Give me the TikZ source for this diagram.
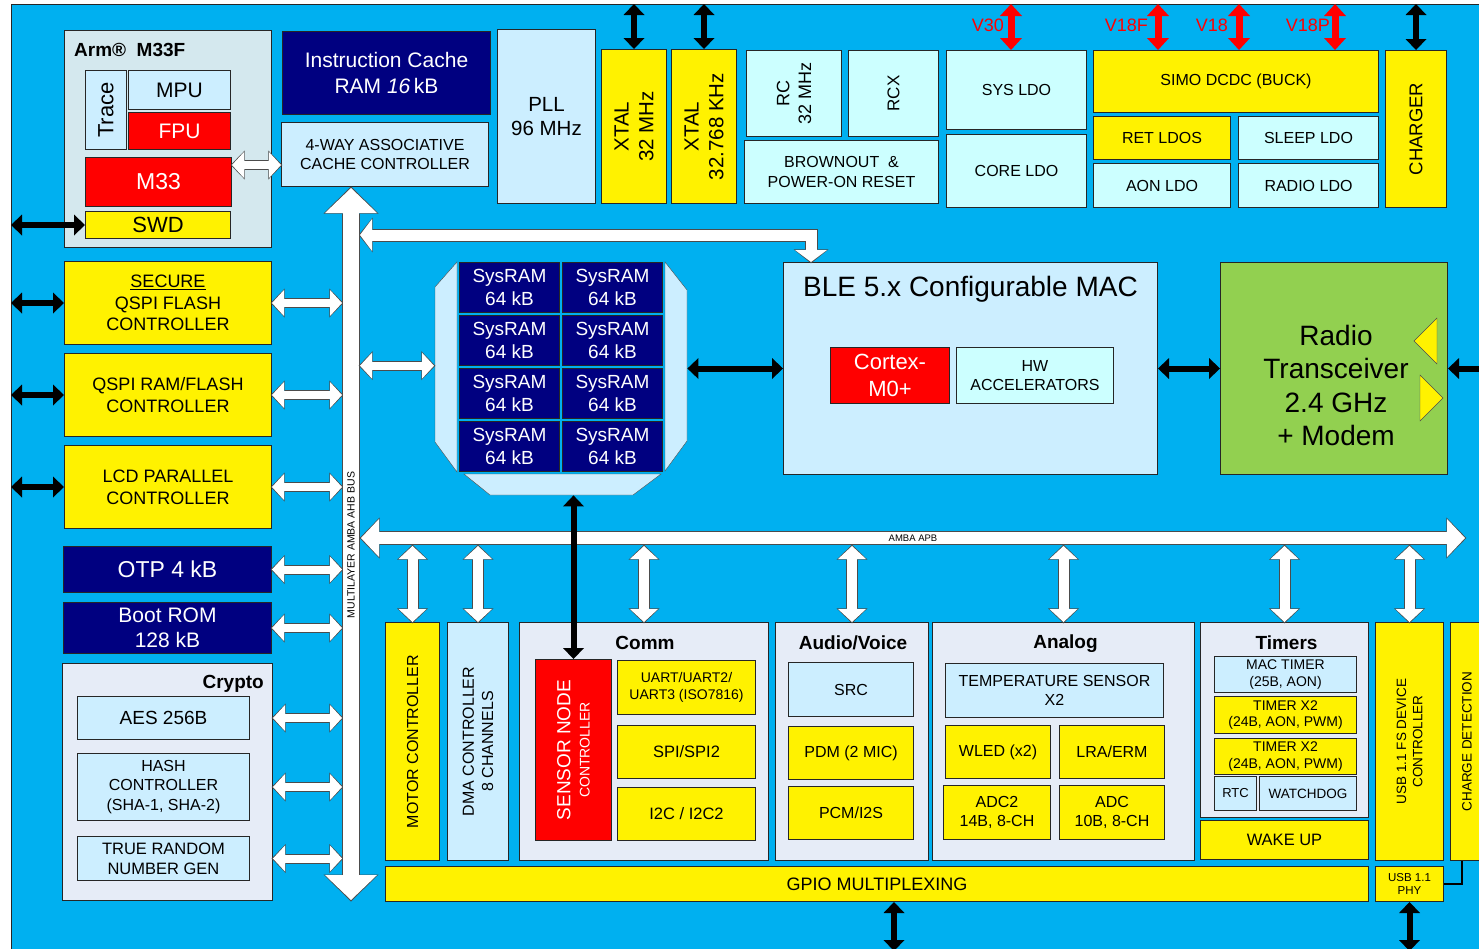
\documentclass[tikz,border=0pt]{standalone}
\usepackage{fontspec}
\setmainfont{Liberation Sans}
\usetikzlibrary{arrows.meta,positioning,calc}
\definecolor{chipblue}{RGB}{0,176,240}
\definecolor{navyram}{RGB}{0,0,128}
\definecolor{paleblue}{RGB}{204,238,255}
\definecolor{palecyan}{RGB}{204,255,255}
\definecolor{armgray}{RGB}{212,232,238}
\definecolor{grpgray}{RGB}{230,236,247}
\definecolor{radiogreen}{RGB}{146,208,80}
\newcommand{\fsz}[1]{\fontsize{#1pt}{\dimexpr#1pt*6/5\relax}\selectfont}

\begin{document}
\begin{tikzpicture}[x=1pt,y=-1pt,>={Triangle[width=21pt,length=11pt,line width=0pt]},font=\fsz{16}]
\tikzset{wh/.style 2 args={minimum width=#1,minimum height=#2}, blk/.style={draw=black!85,line width=1pt,anchor=north west,inner sep=1pt,align=center,font=\fsz{16}}, ybox/.style={blk,fill=yellow}, pbox/.style={blk,fill=paleblue}, cbox/.style={blk,fill=palecyan}, nbox/.style={blk,fill=navyram,text=white}, rbox/.style={blk,fill=red,text=white}, grp/.style={blk,fill=grpgray}, vtxt/.style={rotate=90,align=center,inner sep=0pt}, gttl/.style={font=\bfseries\fsz{19},inner sep=0pt}, vlab/.style={text=red,font=\fsz{18},anchor=east,inner sep=0pt}}
\tikzset{bk/.style={line width=6pt,draw=black}, rk/.style={line width=7pt,draw=red,{Triangle[width=22pt,length=12pt,line width=0pt]}-{Triangle[width=22pt,length=12pt,line width=0pt]}}, wsm/.style={draw=white,line width=8pt,{Triangle[width=26pt,length=12pt,line width=0pt]}-{Triangle[width=26pt,length=12pt,line width=0pt]},preaction={draw=black!70,line width=10pt,shorten <=-1.3pt,shorten >=-1.3pt,{Triangle[width=29pt,length=14pt,line width=0pt]}-{Triangle[width=29pt,length=14pt,line width=0pt]}}}, wvt/.style={draw=white,line width=10pt,{Triangle[width=28pt,length=13pt,line width=0pt]}-{Triangle[width=28pt,length=13pt,line width=0pt]},preaction={draw=black!70,line width=12pt,shorten <=-1.3pt,shorten >=-1.3pt,{Triangle[width=31pt,length=15pt,line width=0pt]}-{Triangle[width=31pt,length=15pt,line width=0pt]}}}, wel/.style={draw=white,line width=11pt,{Triangle[width=32pt,length=12pt,line width=0pt]}-{Triangle[width=32pt,length=12pt,line width=0pt]},preaction={draw=black!70,line width=13pt,shorten <=-1.3pt,shorten >=-1.3pt,{Triangle[width=35pt,length=14pt,line width=0pt]}-{Triangle[width=35pt,length=14pt,line width=0pt]}}}, ahb/.style={draw=white,line width=16pt,{Triangle[width=52pt,length=25pt,line width=0pt]}-{Triangle[width=52pt,length=25pt,line width=0pt]},preaction={draw=black!70,line width=18pt,shorten <=-1.5pt,shorten >=-1.5pt,{Triangle[width=55pt,length=27pt,line width=0pt]}-{Triangle[width=55pt,length=27pt,line width=0pt]}}}, apb/.style={draw=white,line width=12pt,{Triangle[width=38pt,length=18pt,line width=0pt]}-{Triangle[width=38pt,length=18pt,line width=0pt]},preaction={draw=black!70,line width=14pt,shorten <=-1.4pt,shorten >=-1.4pt,{Triangle[width=41pt,length=20pt,line width=0pt]}-{Triangle[width=41pt,length=20pt,line width=0pt]}}}}
\useasboundingbox (0,0) rectangle (1479,948);
\fill[white] (0,0) rectangle (1479,948);
\node[blk,fill=chipblue,wh={1480}{946}] (chip) at (11,4) {};
% core, cache and clocks
\node[blk,fill=armgray,wh={207}{217}] (arm) at (64,30) {};
\node[font=\bfseries\fsz{19},anchor=west,inner sep=0pt] (armtl) at ($(arm.north west)+(10,20)$) {Arm®\ \ M33F};
\node[pbox,wh={41}{79}] (trace) at (85,70) {};
\node[vtxt,font=\fsz{22}] (tracetx) at (trace) {Trace};
\node[pbox,wh={102}{39},font=\fsz{21}] (mpu) at (128,70) {MPU};
\node[rbox,wh={102}{37},font=\fsz{21}] (fpu) at (128,112) {FPU};
\node[rbox,wh={146}{49},font=\fsz{23}] (m33) at (85,157) {M33};
\node[ybox,wh={145}{27},font=\fsz{22}] (swd) at (85,211) {SWD};
\node[nbox,wh={208}{83},font=\fsz{21}] (icache) at (282,31) {Instruction Cache\\RAM \textit{16}\,kB};
\node[pbox,wh={207}{64}] (cachectl) at (281,122) {4-WAY ASSOCIATIVE\\CACHE CONTROLLER};
\node[pbox,wh={98}{174},font=\fsz{20.5}] (pll) at (497,29) {PLL\\96 MHz};
\node[ybox,wh={65}{154}] (xtala) at (601,49) {};
\node[vtxt,font=\fsz{20.5}] (xtalatx) at (xtala) {XTAL\\32 MHz};
\node[ybox,wh={65}{154}] (xtalb) at (671,49) {};
\node[vtxt,font=\fsz{20.5}] (xtalbtx) at (xtalb) {XTAL\\32.768 KHz};
\node[cbox,wh={95}{86}] (rc) at (746,50) {};
\node[vtxt,font=\fsz{18}] (rctx) at (rc) {RC\\32 MHz};
\node[cbox,wh={90}{86}] (rcx) at (848,50) {};
\node[vtxt,font=\fsz{17}] (rcxtx) at (rcx) {RCX};
\node[cbox,wh={194}{63}] (bor) at (744,140) {BROWNOUT\ \ \&\\POWER-ON RESET};
% power
\node[cbox,wh={140}{79}] (sysldo) at (946,50) {SYS LDO};
\node[cbox,wh={140}{73}] (coreldo) at (946,134) {CORE LDO};
\node[ybox,wh={285}{62}] (simo) at (1093,50) {SIMO DCDC (BUCK)};
\node[ybox,wh={137}{43}] (retldo) at (1093,116) {RET LDOS};
\node[cbox,wh={140}{43}] (sleepldo) at (1238,116) {SLEEP LDO};
\node[cbox,wh={137}{44}] (aonldo) at (1093,163) {AON LDO};
\node[cbox,wh={140}{44}] (radioldo) at (1238,163) {RADIO LDO};
\node[ybox,wh={61}{157}] (charger) at (1385,50) {};
\node[vtxt,font=\fsz{18.5}] (chargertx) at (charger) {CHARGER};
\node[vlab] (v30) at (1004,25) {V30};
\node[vlab] (v18f) at (1148,25) {V18F};
\node[vlab] (v18) at (1228,25) {V18};
\node[vlab] (v18p) at (1330,25) {V18P};
% left column
\node[ybox,wh={207}{83},font=\fsz{18}] (qspia) at (64,261) {\underline{SECURE}\\QSPI FLASH\\CONTROLLER};
\node[ybox,wh={207}{83},font=\fsz{18}] (qspib) at (64,353) {QSPI RAM/FLASH\\CONTROLLER};
\node[ybox,wh={207}{83},font=\fsz{18}] (lcd) at (64,445) {LCD PARALLEL\\CONTROLLER};
\node[nbox,wh={208}{46},font=\fsz{23}] (otp) at (63,546) {OTP 4 kB};
\node[nbox,wh={208}{51},font=\fsz{21}] (bootrom) at (63,602) {Boot ROM\\128 kB};
\node[grp,wh={210}{237}] (crypto) at (62,663) {};
\node[gttl,anchor=east] (cryptotl) at ($(crypto.north east)+(-9,21)$) {Crypto};
\node[pbox,wh={172}{43},font=\fsz{19}] (aes) at (77,696) {AES 256B};
\node[pbox,wh={172}{67}] (hash) at (77,753) {HASH\\CONTROLLER\\(SHA-1, SHA-2)};
\node[pbox,wh={172}{44},font=\fsz{16.5}] (trng) at (77,836) {TRUE RANDOM\\NUMBER GEN};
% memory, MAC and radio
\node[anchor=north west,wh={253}{233},inner sep=0pt] (sram) at (434,262) {};
\filldraw[fill=paleblue,draw=black!70] (435,287) -- (457,262) -- (457,472) -- (435,442) -- cycle;
\filldraw[fill=paleblue,draw=black!70] (665,262) -- (687,290) -- (687,441) -- (665,471) -- cycle;
\filldraw[fill=paleblue,draw=black!70] (464,474) -- (661,474) -- (633,495) -- (490,495) -- cycle;
\foreach \r in {0,...,3}
  \foreach \c in {0,1}
    \node[nbox,wh={100}{50},font=\fsz{19}] (ram\r\c) at (459+103*\c,262+53*\r) {SysRAM\\64 kB};
\node[pbox,wh={374}{212}] (ble) at (783,262) {};
\node[font=\fsz{28},inner sep=0pt] (bletl) at ($(ble.north)+(0,27)$) {BLE 5.x Configurable MAC};
\node[rbox,wh={119}{56},font=\fsz{22}] (cortex) at (830,347) {Cortex-\\M0+};
\node[cbox,wh={157}{56}] (hwacc) at (956,347) {HW\\ACCELERATORS};
\node[blk,fill=radiogreen,wh={227}{212}] (radio) at (1220,262) {};
\node[font=\fsz{28},align=center,inner sep=0pt] (radiotx) at ($(radio.center)+(2,17)$) {Radio\\Transceiver\\2.4 GHz\\+ Modem};
\filldraw[fill=yellow,draw=black!70] (1414,341) -- (1437,318) -- (1437,364) -- cycle;
\filldraw[fill=yellow,draw=black!70] (1420,375) -- (1443,398) -- (1420,421) -- cycle;
% peripheral row
\node[ybox,wh={54}{238}] (motor) at (385,622) {};
\node[vtxt,font=\fsz{16}] (motortx) at (motor) {MOTOR CONTROLLER};
\node[pbox,wh={61}{238}] (dma) at (447,622) {};
\node[vtxt,font=\fsz{16}] (dmatx) at (dma) {DMA CONTROLLER\\8 CHANNELS};
\node[grp,wh={249}{238}] (comm) at (519,622) {};
\node[gttl] (commtl) at ($(comm.north)+(1,21)$) {Comm};
\node[rbox,wh={76}{181}] (sensor) at (535,659) {};
\node[vtxt,text=white] (sensortx) at (sensor) {\fsz{19}SENSOR NODE\\\fsz{14}CONTROLLER};
\node[ybox,wh={138}{54},font=\fsz{14}] (uart) at (617,660) {UART/UART2/\\UART3 (ISO7816)};
\node[ybox,wh={138}{53},font=\fsz{16.5}] (spi) at (617,725) {SPI/SPI2};
\node[ybox,wh={138}{53},font=\fsz{16.5}] (i2c) at (617,787) {I2C / I2C2};
\node[grp,wh={153}{238}] (audio) at (775,622) {};
\node[gttl] (audiotl) at ($(audio.north)+(1,21)$) {Audio/Voice};
\node[pbox,wh={125}{54}] (src) at (788,662) {SRC};
\node[ybox,wh={125}{53}] (pdm) at (788,726) {PDM (2 MIC)};
\node[ybox,wh={125}{53}] (pcm) at (788,786) {PCM/I2S};
\node[grp,wh={262}{238}] (analog) at (932,622) {};
\node[gttl] (analogtl) at ($(analog.north)+(2,22)$) {Analog};
\node[pbox,wh={218}{54}] (temp) at (945,663) {TEMPERATURE SENSOR\\X2};
\node[ybox,wh={105}{53}] (wled) at (945,725) {WLED (x2)};
\node[ybox,wh={105}{53}] (lra) at (1059,725) {LRA/ERM};
\node[ybox,wh={107}{54}] (adc2) at (943,785) {ADC2\\14B, 8-CH};
\node[ybox,wh={105}{54}] (adc) at (1059,785) {ADC\\10B, 8-CH};
\node[grp,wh={168}{195}] (timers) at (1200,622) {};
\node[gttl] (timerstl) at ($(timers.north)+(2,21)$) {Timers};
\node[pbox,wh={142}{36},font=\fsz{14}] (mactimer) at (1214,656) {MAC TIMER\\(25B, AON)};
\node[ybox,wh={142}{37},font=\fsz{14}] (timera) at (1214,696) {TIMER X2\\(24B, AON, PWM)};
\node[ybox,wh={142}{36},font=\fsz{14}] (timerb) at (1214,738) {TIMER X2\\(24B, AON, PWM)};
\node[pbox,wh={42}{34},font=\fsz{13}] (rtc) at (1214,776) {RTC};
\node[pbox,wh={97}{34},font=\fsz{13.5}] (wdog) at (1259,776) {WATCHDOG};
\node[ybox,wh={168}{39},font=\fsz{16.5}] (wakeup) at (1200,820) {WAKE UP};
\node[ybox,wh={68}{238}] (usbdev) at (1375,622) {};
\node[vtxt,font=\fsz{13.5}] (usbdevtx) at (usbdev) {USB 1.1 FS DEVICE\\CONTROLLER};
\node[ybox,wh={40}{238}] (chgdet) at (1450,622) {};
\node[vtxt,font=\fsz{13.5}] (chgdettx) at ($(chgdet.west)+(17,0)$) {CHARGE DETECTION};
\node[ybox,wh={983}{35},font=\fsz{18}] (gpio) at (385,866) {GPIO MULTIPLEXING};
\node[ybox,wh={68}{35},font=\fsz{11.5}] (usbphy) at (1375,866) {USB 1.1\\PHY};
% bus lanes
\coordinate (ahbw) at (342,0);
\coordinate (ahbe) at (360,0);
\coordinate (ahbbot) at (351,900);
\coordinate (elb) at (360,235);
\coordinate (apbl) at (361,538);
\coordinate (apbr) at (1465,538);
\coordinate (apbs) at (0,546);
\coordinate (sramw) at ($(sram.west)+(0,-13)$);
\foreach \nd in {qspia,qspib,lcd,otp,bootrom}{\draw[wsm] (\nd.east) -- (\nd.east -| ahbw);}
\foreach \nd in {aes,hash,trng}{\draw[wsm] (\nd.east -| crypto.east) -- (\nd.east -| ahbw);}
\draw[wsm] ($(m33.north east)+(0,8)$) coordinate (m33p) -- (m33p -| cachectl.west);
\draw[wel] ($(ble.north west)+(28,0)$) |- (elb);
\draw[ahb] ($(cachectl.south west)+(70,1)$) -- (ahbbot);
\node[rotate=90,font=\fsz{10.5},inner sep=0pt] (ahbtx) at (351,545) {MULTILAYER AMBA AHB BUS};
\draw[wsm] (sramw -| ahbe) -- (sramw);
\draw[apb] (apbl) -- (apbr);
\node[font=\fsz{9.5},inner sep=0pt] (apbtx) at (913,538) {AMBA APB};
\foreach \nd in {motor,dma,comm,audio,analog,timers,usbdev}{\draw[wvt] (\nd.north |- apbs) -- (\nd.north);}
% black and red signal arrows
\foreach \nd in {xtala,xtalb,charger}{\draw[bk,<->] (\nd.north) -- (\nd.north |- chip.north);}
\foreach \nd/\dx in {sysldo/65,simo/65,simo/146,simo/242}{\draw[rk] ($(\nd.north west)+(\dx,0)$) coordinate (vp) -- (vp |- chip.north);}
\foreach \nd in {swd,qspia,qspib,lcd}{\draw[bk,<->] (\nd.west) -- (\nd.west -| chip.west);}
\draw[bk,<->] (ble.west) -- (ble.west -| sram.east);
\draw[bk,<->] (radio.west) -- (ble.east);
\draw[bk,<-] (radio.east) -- ++(40,0);
\draw[bk,<->] (sensor.north) -- (sensor.north |- sram.south);
\draw[bk,<->] ($(gpio.south)+(17,0)$) coordinate (gp) -- (gp |- chip.south);
\draw[bk,<->] (usbphy.south) -- (usbphy.south |- chip.south);
\draw[line width=1.5pt] (usbphy.east) -| ($(chgdet.south west)+(12,0)$);
\end{tikzpicture}
\end{document}
